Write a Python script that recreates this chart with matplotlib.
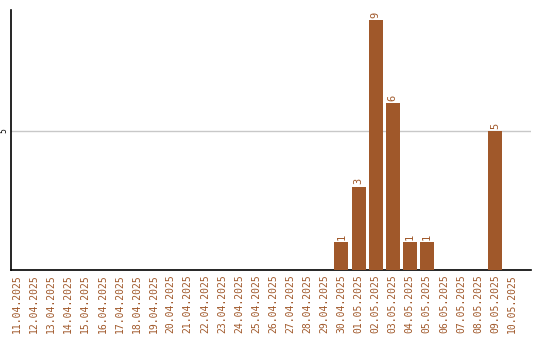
import matplotlib
matplotlib.use("Agg")
import matplotlib.pyplot as plt

# daily counts, 11.04.2025 .. 10.05.2025
dates = [f"{d:02d}.04.2025" for d in range(11, 31)] + [f"{d:02d}.05.2025" for d in range(1, 11)]
counts = [0] * 19 + [1, 3, 9, 6, 1, 1, 0, 0, 0, 5, 0]

bar_color = "#a0582a"
label_color = "#a0582a"

fig = plt.figure(figsize=(5.4, 3.4), dpi=100)
ax = fig.add_axes([11 / 540, 70 / 340, 520 / 540, 260 / 340])

x = list(range(len(dates)))
ax.bar(x, counts, width=0.82, color=bar_color, zorder=3)

# value labels above non-empty bars
for xi, c in zip(x, counts):
    if c > 0:
        ax.text(xi, c + 0.08, str(c), rotation=90, ha="center", va="bottom",
                fontsize=7.5, color=label_color, family="DejaVu Sans Mono")

ax.set_xlim(-0.35, 30.1)
ax.set_ylim(0, 9.35)

ax.set_xticks(x)
ax.set_xticklabels(dates, rotation=90, fontsize=7, color=label_color,
                   family="DejaVu Sans Mono")
ax.set_yticks([5])
ax.set_yticklabels(["5"], rotation=90, fontsize=5.5, va="center")
ax.tick_params(axis="x", length=0, pad=3)
ax.tick_params(axis="y", length=0, pad=2)

ax.grid(axis="y", color="#c8c8c8", linewidth=1, zorder=0)
for side in ("top", "right"):
    ax.spines[side].set_visible(False)
ax.spines["left"].set_linewidth(1.2)
ax.spines["bottom"].set_linewidth(1.2)

fig.savefig("out.png", dpi=100)
